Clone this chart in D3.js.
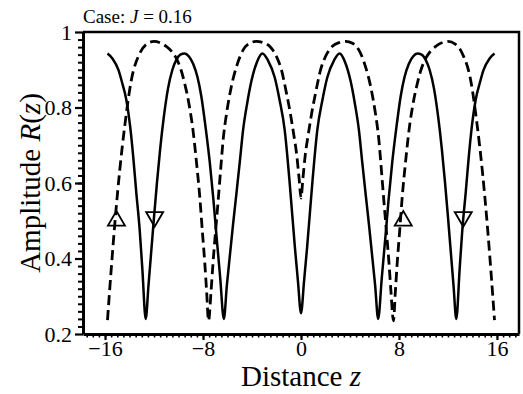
<!DOCTYPE html>
<html>
<head>
<meta charset="utf-8">
<script src="https://cdn.jsdelivr.net/npm/d3@7"></script>
<style>
  text, tspan { font-family: "Liberation Serif" !important; }
</style>
</head>
<body style="margin:0">
<svg id="chart"></svg>
<script>
// solid curve R(z)
const solidCurve = [
  [-15.8, 0.943], [-15.4, 0.93], [-14.9, 0.899], [-14.6, 0.865], [-14.26, 0.82],
  [-13.95, 0.75], [-13.7, 0.67], [-13.45, 0.575], [-13.17, 0.475], [-12.95, 0.37],
  [-12.68, 0.24], [-12.45, 0.33], [-12.2, 0.43], [-12.0, 0.51], [-11.75, 0.605],
  [-11.5, 0.69], [-11.2, 0.775], [-10.86, 0.85], [-10.5, 0.9], [-10.18, 0.926],
  [-9.85, 0.94], [-9.5, 0.943], [-9.15, 0.935], [-8.8, 0.915], [-8.45, 0.88],
  [-8.14, 0.83], [-7.8, 0.75], [-7.45, 0.655], [-7.15, 0.555], [-6.9, 0.46],
  [-6.6, 0.35], [-6.3, 0.24], [-6.05, 0.33], [-5.8, 0.41], [-5.55, 0.49],
  [-5.28, 0.57], [-5.0, 0.655], [-4.73, 0.74], [-4.4, 0.81], [-4.05, 0.87],
  [-3.6, 0.92], [-3.15, 0.943], [-2.7, 0.925], [-2.15, 0.88], [-1.75, 0.82],
  [-1.33, 0.74], [-0.95, 0.61], [-0.5, 0.43], [-0.25, 0.34], [0, 0.255],
  [0.25, 0.34], [0.5, 0.43], [0.95, 0.61], [1.33, 0.74], [1.75, 0.82],
  [2.15, 0.88], [2.7, 0.925], [3.15, 0.943], [3.6, 0.92], [4.05, 0.87],
  [4.4, 0.81], [4.73, 0.74], [5.0, 0.655], [5.28, 0.57], [5.55, 0.49],
  [5.8, 0.41], [6.05, 0.33], [6.3, 0.24], [6.6, 0.35], [6.9, 0.46],
  [7.15, 0.555], [7.45, 0.655], [7.8, 0.75], [8.14, 0.83], [8.45, 0.88],
  [8.8, 0.915], [9.15, 0.935], [9.5, 0.943], [9.85, 0.94], [10.18, 0.926],
  [10.5, 0.9], [10.86, 0.85], [11.2, 0.775], [11.5, 0.69], [11.75, 0.605],
  [12.0, 0.51], [12.2, 0.43], [12.45, 0.33], [12.68, 0.24], [12.95, 0.37],
  [13.17, 0.475], [13.45, 0.575], [13.7, 0.67], [13.95, 0.75], [14.26, 0.82],
  [14.6, 0.865], [14.9, 0.899], [15.4, 0.93], [15.8, 0.943]
]

// dashed curve R(z)
const dashedCurve = [
  [-15.8, 0.237], [-15.5, 0.37], [-15.2, 0.493], [-14.8, 0.634], [-14.4, 0.749],
  [-13.85, 0.873], [-13.17, 0.943], [-12.6, 0.968], [-12.0, 0.975], [-11.4, 0.97],
  [-11.0, 0.962], [-10.6, 0.95], [-10.18, 0.93], [-9.8, 0.9], [-9.5, 0.864],
  [-9.15, 0.81], [-8.82, 0.74], [-8.55, 0.66], [-8.27, 0.565], [-8.05, 0.47],
  [-7.86, 0.39], [-7.7, 0.31], [-7.55, 0.235], [-7.35, 0.31], [-7.18, 0.39],
  [-6.98, 0.47], [-6.78, 0.547], [-6.55, 0.64], [-6.37, 0.71], [-6.05, 0.79],
  [-5.69, 0.855], [-5.2, 0.915], [-4.73, 0.952], [-4.2, 0.97], [-3.65, 0.975],
  [-3.1, 0.972], [-2.56, 0.962], [-2.0, 0.935], [-1.6, 0.9], [-1.2, 0.84],
  [-0.9, 0.79], [-0.6, 0.73], [-0.35, 0.675], [-0.15, 0.61], [0, 0.56],
  [0.15, 0.61], [0.35, 0.675], [0.6, 0.73], [0.9, 0.79], [1.2, 0.84],
  [1.6, 0.9], [2.0, 0.935], [2.56, 0.962], [3.1, 0.972], [3.65, 0.975],
  [4.2, 0.97], [4.73, 0.952], [5.2, 0.915], [5.69, 0.855], [6.05, 0.79],
  [6.37, 0.71], [6.55, 0.64], [6.78, 0.547], [6.98, 0.47], [7.18, 0.39],
  [7.35, 0.31], [7.55, 0.235], [7.7, 0.31], [7.86, 0.39], [8.05, 0.47],
  [8.27, 0.565], [8.55, 0.66], [8.82, 0.74], [9.15, 0.81], [9.5, 0.864],
  [9.8, 0.9], [10.18, 0.93], [10.6, 0.95], [11.0, 0.962], [11.4, 0.97],
  [12.0, 0.975], [12.6, 0.968], [13.17, 0.943], [13.85, 0.873], [14.4, 0.749],
  [14.8, 0.634], [15.2, 0.493], [15.5, 0.37], [15.8, 0.237]
]

// triangle markers
const upMarks = [[-15.07, 0.5], [8.35, 0.5]]
const downMarks = [[-11.95, 0.51], [13.25, 0.51]]

const xTicks = [-16, -8, 0, 8, 16]
const yTicks = [0.2, 0.4, 0.6, 0.8, 1]

let width = 523, height = 394
let margin = {top: 32, right: 4, bottom: 60, left: 83}

let svg = d3.select('#chart')
    .attr('width', width)
    .attr('height', height)
    .attr('font-family', 'Liberation Serif')

let x = d3.scaleLinear().domain([-17.8, 17.8]).range([margin.left, width - margin.right])
let y = d3.scaleLinear().domain([0.2, 1]).range([height - margin.bottom, margin.top])

// minor ticks first
svg.append('g')
    .attr('transform', `translate(0, ${y(0.2)})`)
    .call(d3.axisBottom(x).tickValues(d3.range(-17.5, 17.6, 0.5)).tickSize(3.5).tickFormat(''))
    .call(g => g.select('.domain').remove())
    .call(g => g.selectAll('line').attr('stroke-width', 1.6))

svg.append('g')
    .attr('transform', `translate(${x.range()[0]}, 0)`)
    .call(d3.axisLeft(y).tickValues(d3.range(0.22, 1.0, 0.02)).tickSize(5).tickFormat(''))
    .call(g => g.select('.domain').remove())
    .call(g => g.selectAll('line').attr('stroke-width', 2))

// major axes
let xAxis = svg.append('g')
    .attr('transform', `translate(0, ${y(0.2)})`)
    .call(d3.axisBottom(x).tickValues(xTicks).tickSize(6).tickPadding(0).tickSizeOuter(0))

let yAxis = svg.append('g')
    .attr('transform', `translate(${x.range()[0]}, 0)`)
    .call(d3.axisLeft(y).tickValues(yTicks).tickSize(8).tickPadding(3).tickSizeOuter(0)
        .tickFormat(d => d === 1 ? '1' : d3.format('.1f')(d)))

for (let ax of [xAxis, yAxis]) {
    ax.attr('font-family', null).attr('font-size', 22)
    ax.selectAll('text')
        .attr('font-size', 22)
        .attr('fill', '#000')
    ax.selectAll('line').attr('stroke-width', 2.2)
    ax.select('.domain').attr('stroke-width', 3)
}

// frame top / right
svg.append('path')
    .attr('d', `M${x.range()[0]},${y(1)}H${x.range()[1]}V${y(0.2)}`)
    .attr('fill', 'none')
    .attr('stroke', '#000')
    .attr('stroke-width', 2.5)

let line = d3.line()
    .x(d => x(d[0]))
    .y(d => y(d[1]))
    .curve(d3.curveMonotoneX)

svg.append('path')
    .datum(dashedCurve)
    .attr('d', line)
    .attr('fill', 'none')
    .attr('stroke', '#000')
    .attr('stroke-width', 2.8)
    .attr('stroke-dasharray', '10,5')

svg.append('path')
    .datum(solidCurve)
    .attr('d', line)
    .attr('fill', 'none')
    .attr('stroke', '#000')
    .attr('stroke-width', 2.5)

let tri = d3.symbol().type(d3.symbolTriangle).size(125)

svg.selectAll('.up')
    .data(upMarks)
    .enter()
    .append('path')
    .attr('d', tri)
    .attr('transform', d => `translate(${x(d[0])}, ${y(d[1])})`)
    .attr('fill', 'none')
    .attr('stroke', '#000')
    .attr('stroke-width', 1.8)

svg.selectAll('.down')
    .data(downMarks)
    .enter()
    .append('path')
    .attr('d', tri)
    .attr('transform', d => `translate(${x(d[0])}, ${y(d[1])}) rotate(180)`)
    .attr('fill', 'none')
    .attr('stroke', '#000')
    .attr('stroke-width', 1.8)

// titles
let cap = svg.append('text')
    .attr('x', 83)
    .attr('y', 23)
    .attr('font-size', 19)
cap.append('tspan').text('Case: ')
cap.append('tspan').attr('font-style', 'italic').text('J')
cap.append('tspan').text(' = 0.16')

let xl = svg.append('text')
    .attr('x', x(0))
    .attr('y', 386)
    .attr('text-anchor', 'middle')
    .attr('font-size', 29)
xl.append('tspan').text('Distance ')
xl.append('tspan').attr('font-style', 'italic').text('z')

let yl = svg.append('text')
    .attr('transform', `translate(40, ${y(0.6)}) rotate(-90)`)
    .attr('text-anchor', 'middle')
    .attr('font-size', 29)
yl.append('tspan').text('Amplitude ')
yl.append('tspan').attr('font-style', 'italic').text('R')
yl.append('tspan').text('(')
yl.append('tspan').attr('font-style', 'italic').text('z')
yl.append('tspan').text(')')
</script>
</body>
</html>
